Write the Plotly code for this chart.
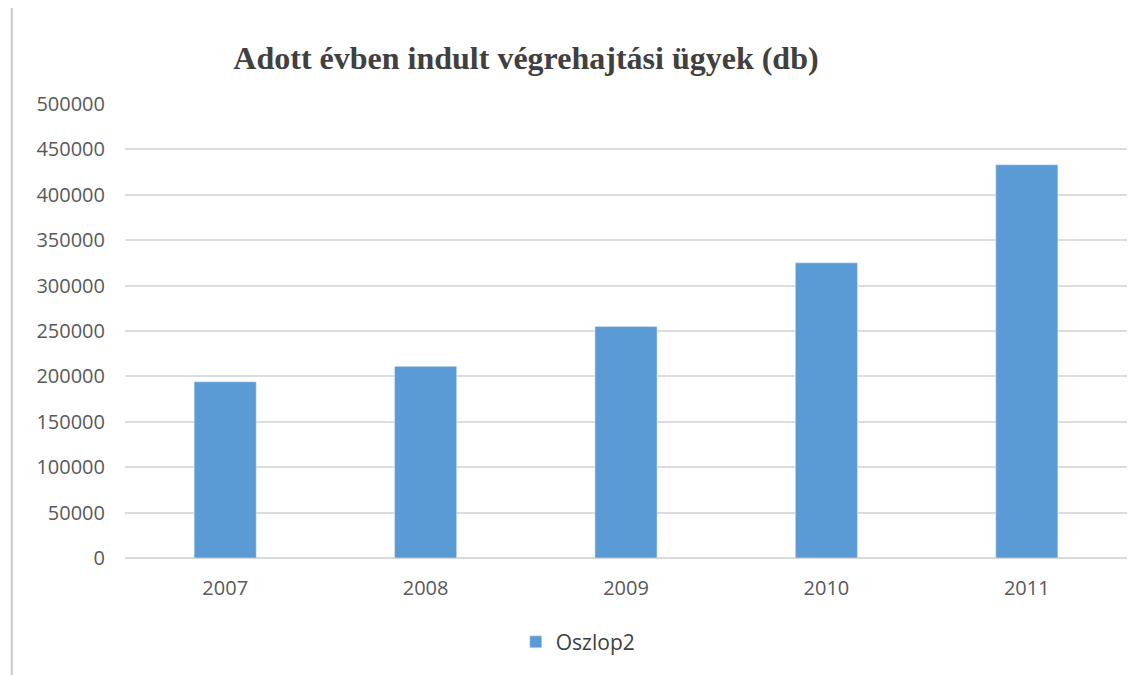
import plotly.graph_objects as go

years = ["2007", "2008", "2009", "2010", "2011"]
cases = [194000, 211000, 255000, 325000, 433000]
y_ticks = list(range(0, 500001, 50000))

fig = go.Figure()
fig.add_trace(go.Bar(x=years, y=cases, name="Oszlop2", marker_color="#5b9bd5"))

# the page body adds 8px, so margins are shifted by that amount
fig.update_layout(
    width=1146,
    height=675,
    paper_bgcolor="white",
    plot_bgcolor="white",
    margin=dict(l=117, r=27, t=95, b=125),
    bargap=0.69,
    title=dict(
        text="<b>Adott évben indult végrehajtási ügyek (db)</b>",
        font=dict(family="Liberation Serif", size=32, color="#404040"),
        x=0.452, xanchor="center", y=0.926, yanchor="middle",
    ),
    font=dict(family="Open Sans", size=20, color="#595959"),
    showlegend=True,
    legend=dict(
        orientation="h", x=0.39, xanchor="left", y=-0.185, yanchor="middle",
        font=dict(size=21, color="#404040"),
    ),
)
fig.update_xaxes(showline=False, ticks="", ticklabelstandoff=16)
fig.update_yaxes(
    range=[0, 501000], tickvals=y_ticks, tickformat="d",
    gridcolor="#dcdcdc", gridwidth=1.5, zeroline=True, zerolinecolor="#d9d9d9",
    zerolinewidth=1.5, ticklabelstandoff=19,
)
fig.add_shape(type="line", xref="paper", yref="paper", x0=-0.113, x1=-0.113,
              y0=-0.3, y1=1.22, line=dict(color="#c8c8c8", width=2))

fig.write_html("out.html")
